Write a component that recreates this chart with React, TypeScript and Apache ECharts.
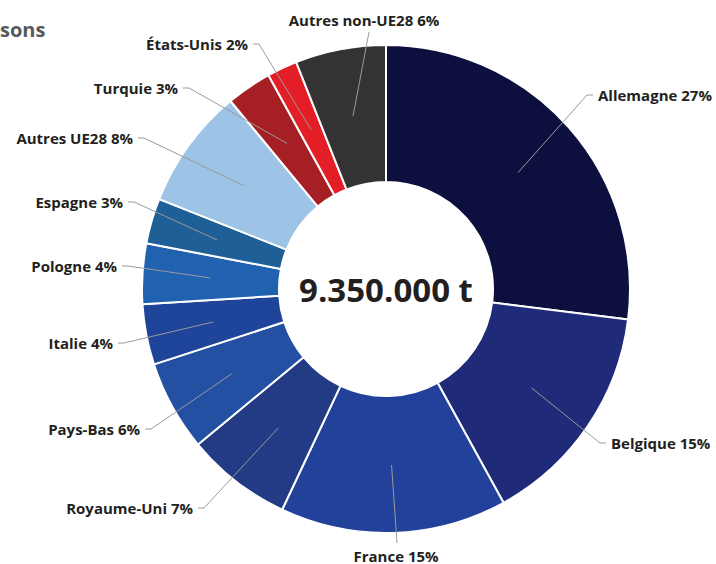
import React, { useEffect, useRef } from "react";
import * as echarts from "echarts";

const categories = [
  "Allemagne",
  "Belgique",
  "France",
  "Royaume-Uni",
  "Pays-Bas",
  "Italie",
  "Pologne",
  "Espagne",
  "Autres UE28",
  "Turquie",
  "États-Unis",
  "Autres non-UE28",
];
const shares = [27, 15, 15, 7, 6, 4, 4, 3, 8, 3, 2, 6];
const colors = [
  "#0d103e",
  "#1f2a78",
  "#22419a",
  "#233b85",
  "#2450a3",
  "#1f459b",
  "#2061b0",
  "#1f5f97",
  "#9dc3e6",
  "#a61f24",
  "#e31e26",
  "#333333",
];
const totalLabel = "9.350.000 t";
const titleFragment = "sons";

// label placement (layout only): text anchor, alignment
const labelPlacement: [number, number, string, string][] = [
  [598, 95, "left", "middle"],
  [611, 443, "left", "middle"],
  [396, 548, "center", "top"],
  [193, 508, "right", "middle"],
  [140, 429, "right", "middle"],
  [113, 343, "right", "middle"],
  [117, 266, "right", "middle"],
  [123, 202, "right", "middle"],
  [133, 138, "right", "middle"],
  [178, 88, "right", "middle"],
  [248, 44, "right", "middle"],
  [364, 27, "center", "bottom"],
];

const CX = 386;
const CY = 289;
const R_IN = 107;
const R_OUT = 244;
const R_MID = 176;

export default function App() {
  const ref = useRef<HTMLDivElement>(null);
  useEffect(() => {
    if (!ref.current) return;
    const chart = echarts.init(ref.current, undefined, { renderer: "svg" });
    const total = shares.reduce((a, b) => a + b, 0);
    const midAngles: number[] = [];
    let acc = 0;
    shares.forEach((v) => {
      midAngles.push(((acc + v / 2) / total) * Math.PI * 2);
      acc += v;
    });
    const data = categories.map((name, i) => ({
      name,
      value: shares[i],
      itemStyle: { color: colors[i] },
    }));
    const font = "'Open Sans', sans-serif";
    chart.setOption({
      animation: false,
      backgroundColor: "#ffffff",
      graphic: [
        {
          type: "text",
          left: 0,
          top: 19,
          style: {
            text: titleFragment,
            fill: "#58595b",
            font: `bold 20px ${font}`,
          },
        },
      ],
      series: [
        {
          type: "pie",
          z: 2,
          center: [CX, CY],
          radius: [R_IN, R_OUT],
          startAngle: 90,
          clockwise: true,
          silent: true,
          label: {
            show: true,
            position: "center",
            formatter: () => totalLabel,
            fontFamily: font,
            fontWeight: "bold",
            fontSize: 33,
            color: "#231f20",
          },
          labelLine: { show: false },
          itemStyle: { borderColor: "#ffffff", borderWidth: 2 },
          emphasis: { disabled: true },
          data: data.map((d, i) =>
            i === 0 ? d : { ...d, label: { show: false } }
          ),
        },
        {
          type: "pie",
          z: 10,
          center: [CX, CY],
          radius: [R_IN, R_MID],
          startAngle: 90,
          clockwise: true,
          silent: true,
          itemStyle: { color: "rgba(0,0,0,0)" },
          emphasis: { disabled: true },
          label: {
            show: true,
            position: "outside",
            formatter: "{b} {c}%",
            fontFamily: font,
            fontWeight: "bold",
            fontSize: 15,
            color: "#231f20",
            overflow: "none",
          },
          labelLine: {
            show: true,
            length: 60,
            length2: 10,
            lineStyle: { color: "#9a9a9a", width: 1 },
          },
          labelLayout: (params: any) => {
            const i = params.dataIndex;
            const [x, y, align, vAlign] = labelPlacement[i];
            const a = midAngles[i];
            const start = [CX + R_MID * Math.sin(a), CY - R_MID * Math.cos(a)];
            let pts: number[][];
            if (align === "center") {
              const endY = vAlign === "top" ? y - 5 : y + 5;
              const endX = x + (vAlign === "top" ? 1 : 5);
              pts = [start, [endX, endY], [endX, endY]];
            } else {
              const dir = align === "left" ? 1 : -1;
              pts = [start, [x - 11 * dir, y], [x - 5 * dir, y]];
            }
            return {
              x,
              y,
              align,
              verticalAlign: vAlign,
              labelLinePoints: pts,
            };
          },
          data: categories.map((name, i) => ({ name, value: shares[i] })),
        },
      ],
    });
    return () => chart.dispose();
  }, []);
  return (
    <div
      ref={ref}
      style={{ position: "absolute", left: 0, top: 0, width: 716, height: 564 }}
    />
  );
}
